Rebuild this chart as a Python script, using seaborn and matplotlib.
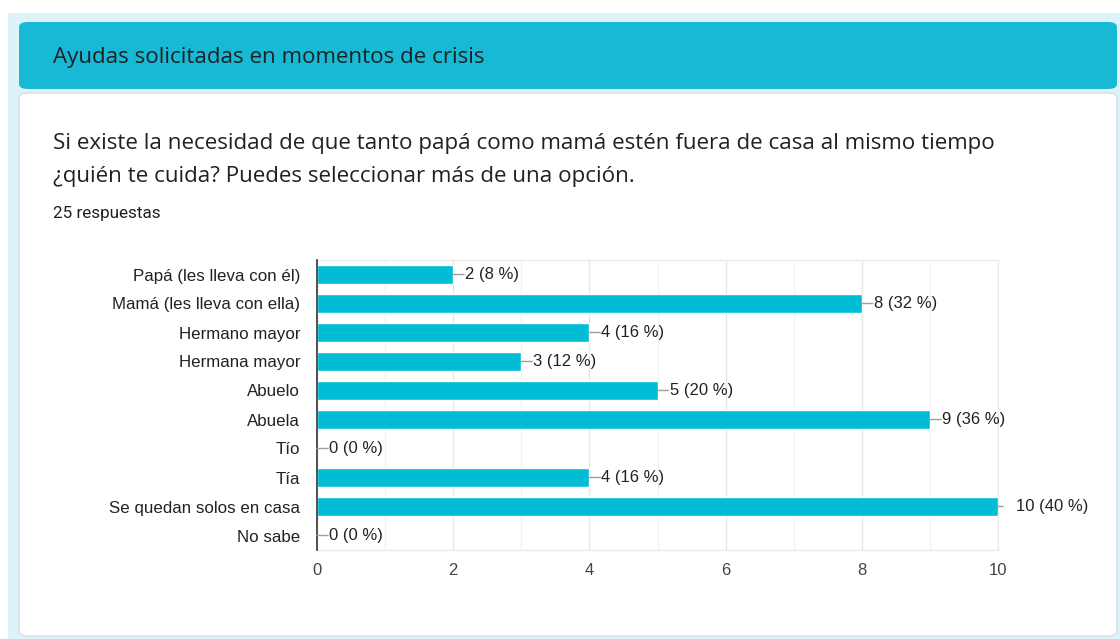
import matplotlib
matplotlib.use("Agg")
import matplotlib.pyplot as plt
import seaborn as sns
import pandas as pd
from matplotlib.patches import FancyBboxPatch, Rectangle
from matplotlib.ticker import MultipleLocator

categories = ["Papá (les lleva con él)", "Mamá (les lleva con ella)", "Hermano mayor",
              "Hermana mayor", "Abuelo", "Abuela", "Tío", "Tía",
              "Se quedan solos en casa", "No sabe"]
counts = [2, 8, 4, 3, 5, 9, 0, 4, 10, 0]
total_responses = 25
x_ticks = [0, 2, 4, 6, 8, 10]

section_title = "Ayudas solicitadas en momentos de crisis"
question = ("Si existe la necesidad de que tanto papá como mamá estén fuera de casa al mismo tiempo\n"
            "¿quién te cuida? Puedes seleccionar más de una opción.")
responses_text = f"{total_responses} respuestas"

df = pd.DataFrame({"cat": categories, "n": counts})

sns.set_theme(style="white")
plt.rcParams["font.family"] = ["Liberation Sans", "DejaVu Sans"]

W, H = 1120, 639
fig = plt.figure(figsize=(W / 100, H / 100), dpi=100)
fig.patch.set_facecolor("white")

def fx(px):
    return px / W

def fy(py):
    return 1 - py / H

# outer light-cyan background
fig.patches.append(Rectangle((fx(8), 0), 1 - fx(8), fy(13), transform=fig.transFigure,
                             facecolor="#dcf4f9", edgecolor="none", zorder=0))
# header
fig.patches.append(FancyBboxPatch((fx(19), fy(89)), fx(1117) - fx(19), fy(22) - fy(89),
                                  boxstyle="round,pad=0,rounding_size=0.008",
                                  transform=fig.transFigure, facecolor="#17b9d4",
                                  edgecolor="none", zorder=1))
# card
fig.patches.append(FancyBboxPatch((fx(19), fy(636)), fx(1117) - fx(19), fy(93) - fy(636),
                                  boxstyle="round,pad=0,rounding_size=0.008",
                                  transform=fig.transFigure, facecolor="white",
                                  edgecolor="#dadce0", linewidth=1, zorder=1))

fig.text(fx(53), fy(58), section_title, fontsize=16.1, family=["Open Sans", "DejaVu Sans"],
         color="#202124", va="center", ha="left")
fig.text(fx(53), fy(160), question, fontsize=16.1, family=["Open Sans", "DejaVu Sans"],
         color="#202124", va="center", ha="left", linespacing=1.8)
fig.text(fx(53), fy(214), responses_text, fontsize=12.3, family=["Roboto", "DejaVu Sans"],
         color="#202124", va="center", ha="left")

ax = fig.add_axes([fx(317), fy(550), fx(998) - fx(317), fy(260) - fy(550)])
ax.set_zorder(3)
ax.set_facecolor("white")
sns.barplot(data=df, y="cat", x="n", orient="h", color="#00bcd4", saturation=1,
            width=0.63, ax=ax, zorder=3)
ax.set_xlim(0, 10)
ax.set_ylim(len(categories) - 0.5, -0.5)
ax.set_xticks(x_ticks)
ax.xaxis.set_minor_locator(MultipleLocator(1))
ax.grid(axis="x", which="major", color="#e6e6e6", linewidth=1, zorder=0)
ax.grid(axis="x", which="minor", color="#f2f2f2", linewidth=1, zorder=0)
ax.set_axisbelow(True)
ax.set_xlabel("")
ax.set_ylabel("")
for s in ["top", "bottom", "right"]:
    ax.spines[s].set_color("#ebebeb")
    ax.spines[s].set_linewidth(1)
ax.spines["left"].set_color("#333333")
ax.spines["left"].set_linewidth(1.2)
ax.spines["left"].set_zorder(5)
ax.tick_params(axis="y", length=0, pad=12, labelsize=12.2, labelcolor="#222222")
ax.tick_params(axis="x", which="both", length=0, pad=9.5, labelsize=12, labelcolor="#444444")

vmax = max(counts)
for i, v in enumerate(counts):
    pct = round(v / total_responses * 100)
    label = f"{v} ({pct} %)"
    if v == vmax:
        text_off, line_len = 18, 5
    else:
        text_off, line_len = 12, 11
    # leader line
    ax.annotate("", xy=(v, i), xytext=(line_len, 0), textcoords="offset pixels",
                arrowprops=dict(arrowstyle="-", color="#9e9e9e", lw=1,
                                shrinkA=0, shrinkB=0),
                annotation_clip=False, zorder=6)
    ax.annotate(label, xy=(v, i), xytext=(text_off, 0), textcoords="offset pixels",
                ha="left", va="center", fontsize=12, color="#222222",
                annotation_clip=False, zorder=6)

fig.savefig("out.png", dpi=100)
